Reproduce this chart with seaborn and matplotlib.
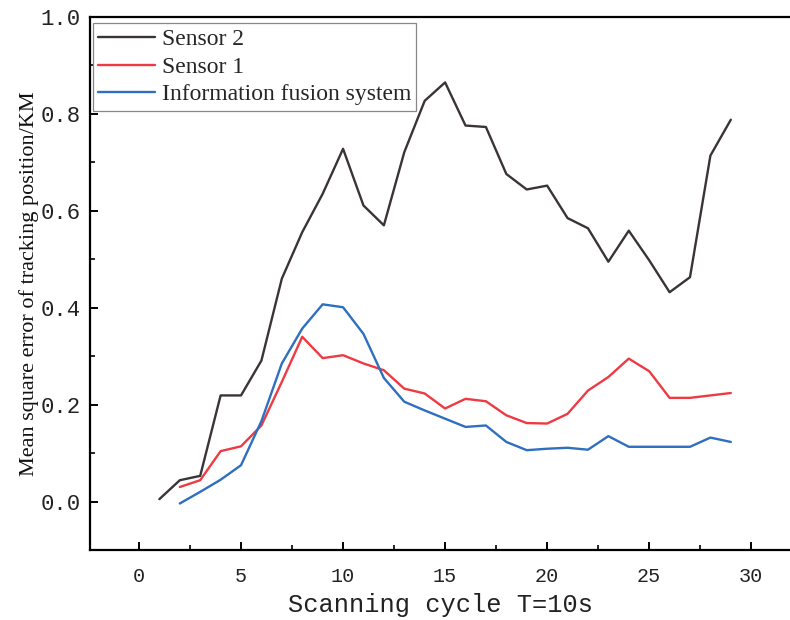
import matplotlib
matplotlib.use("Agg")
import matplotlib.pyplot as plt
import seaborn as sns
import pandas as pd
from matplotlib.ticker import MultipleLocator

# Scanning cycles
cycles_s2 = list(range(1, 30))
cycles = list(range(2, 30))

# Mean square error of tracking position (KM)
sensor2 = [0.005, 0.044, 0.053, 0.219, 0.219, 0.291, 0.460, 0.556, 0.635, 0.728,
           0.611, 0.570, 0.721, 0.827, 0.865, 0.776, 0.773, 0.676, 0.644, 0.652,
           0.585, 0.564, 0.495, 0.559, 0.498, 0.432, 0.463, 0.714, 0.788]
sensor1 = [0.030, 0.044, 0.104, 0.114, 0.157, 0.247, 0.340, 0.296, 0.302,
           0.285, 0.271, 0.233, 0.223, 0.192, 0.212, 0.207, 0.178, 0.162, 0.161,
           0.181, 0.229, 0.257, 0.295, 0.269, 0.214, 0.214, 0.219, 0.224]
fusion = [-0.004, 0.020, 0.045, 0.075, 0.166, 0.285, 0.357, 0.407, 0.401,
          0.346, 0.255, 0.206, 0.188, 0.171, 0.154, 0.157, 0.123, 0.106, 0.109,
          0.111, 0.107, 0.135, 0.113, 0.113, 0.113, 0.113, 0.132, 0.123]

series_names = ["Sensor 2", "Sensor 1", "Information fusion system"]
series_colors = ["#3b3434", "#ee3a43", "#2e6fc0"]

sns.set_theme(style="white")

fig = plt.figure(figsize=(7.9, 6.2), dpi=100)
ax = fig.add_axes([90 / 790, 1 - 550 / 620, 1 - 90 / 790, (550 - 17) / 620])

frames = [
    pd.DataFrame({"cycle": cycles_s2, "mse": sensor2, "series": series_names[0]}),
    pd.DataFrame({"cycle": cycles, "mse": sensor1, "series": series_names[1]}),
    pd.DataFrame({"cycle": cycles, "mse": fusion, "series": series_names[2]}),
]
data = pd.concat(frames, ignore_index=True)

sns.lineplot(data=data, x="cycle", y="mse", hue="series", hue_order=series_names,
             palette=series_colors, linewidth=1.7, ax=ax, legend=True)

ax.set_xlim(-2.4, 31.9)
ax.set_ylim(-0.1, 1.0)
ax.xaxis.set_major_locator(MultipleLocator(5))
ax.xaxis.set_minor_locator(MultipleLocator(2.5))
ax.yaxis.set_major_locator(MultipleLocator(0.2))
ax.yaxis.set_minor_locator(MultipleLocator(0.1))
ax.yaxis.set_major_formatter(matplotlib.ticker.FormatStrFormatter("%.1f"))

for side in ["left", "bottom", "top"]:
    ax.spines[side].set_color("black")
    ax.spines[side].set_linewidth(1.6)
ax.spines["right"].set_visible(False)

ax.tick_params(axis="both", which="major", direction="in", length=6, width=1.4,
               color="black", bottom=True, left=True, top=False, right=False)
ax.tick_params(axis="both", which="minor", direction="in", length=3.5, width=1.2,
               color="black", bottom=True, left=True, top=False, right=False)
ax.tick_params(axis="x", which="major", pad=12)
ax.tick_params(axis="y", which="major", pad=7)

for lab in ax.get_xticklabels():
    lab.set_fontfamily("Liberation Mono")
    lab.set_fontsize(14.5)
    lab.set_color("#222222")
for lab in ax.get_yticklabels():
    lab.set_fontfamily("Liberation Mono")
    lab.set_fontsize(16)
    lab.set_color("#222222")

ax.set_xlabel("Scanning cycle T=10s", fontfamily="Liberation Mono", fontsize=18.3,
              color="#222222", labelpad=5)
ax.set_ylabel("Mean square error of tracking position/KM", fontfamily="Liberation Serif",
              fontsize=16, color="#111111", labelpad=1)

leg = ax.legend(loc="upper left", bbox_to_anchor=(0.004, 0.988),
                prop={"family": "Liberation Serif", "size": 17},
                frameon=True, fancybox=False, framealpha=1, edgecolor="#888888",
                handlelength=2.4, handletextpad=0.3, labelspacing=0.26,
                borderpad=0.22, borderaxespad=0.0)
leg.get_frame().set_linewidth(0.9)
for line in leg.get_lines():
    line.set_linewidth(1.7)

fig.savefig("out.png", dpi=100)
